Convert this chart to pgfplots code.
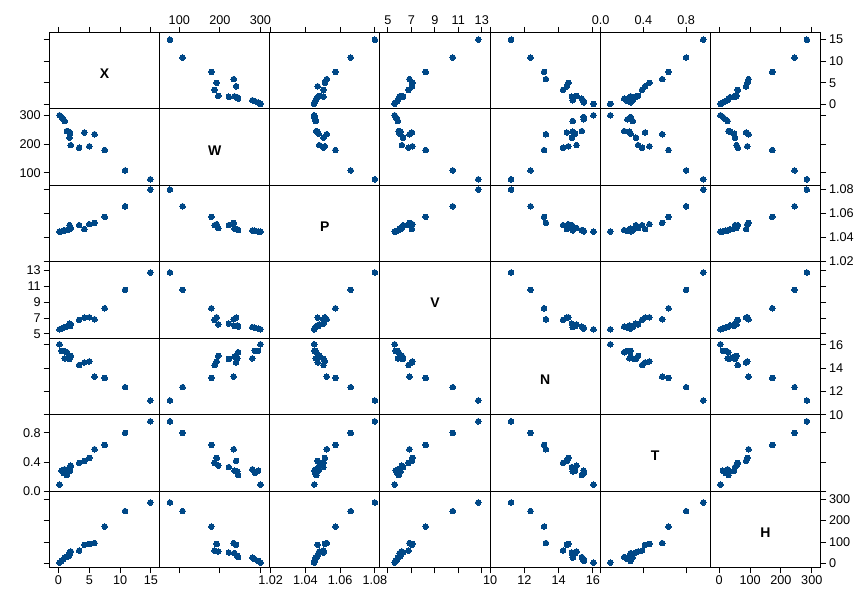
\documentclass[border=0pt]{standalone}
\usepackage{pgfplots}
\pgfplotsset{compat=1.18}
\usepackage{pgfplotstable}
\usepackage{fontspec}
\setmainfont{Liberation Sans}
\definecolor{ptblue}{RGB}{0,72,135}

\pgfplotstableread{
c1 c2 c3 c4 c5 c6 c7
0.17 300 1.0451 5.58 16.04 0.09 4
0.5 294 1.0452 5.67 15.47 0.28 12
0.8 286 1.0457 5.79 15.47 0.25 20
1.0 280 1.0460 5.85 14.83 0.30 27
1.36 245 1.0463 5.92 15.36 0.22 30
1.7 243 1.0470 6.08 14.83 0.27 35
1.8 222 1.0504 6.30 14.78 0.33 51
1.9 236 1.0476 6.00 14.97 0.28 48
2.0 196 1.0480 6.20 15.05 0.35 56
3.36 187 1.0504 6.76 14.26 0.387 60
4.2 240 1.0471 7.05 14.48 0.415 87
5.0 192 1.0512 7.09 14.57 0.456 91
5.85 234 1.0523 6.84 13.26 0.576 95
7.5 179 1.0573 8.22 13.15 0.635 172
10.8 108 1.0661 10.53 12.36 0.80 244
14.9 77 1.0800 12.7 11.22 0.96 284
}\datatable

\expandafter\def\csname vn1\endcsname{X}
\expandafter\def\csname vn2\endcsname{W}
\expandafter\def\csname vn3\endcsname{P}
\expandafter\def\csname vn4\endcsname{V}
\expandafter\def\csname vn5\endcsname{N}
\expandafter\def\csname vn6\endcsname{T}
\expandafter\def\csname vn7\endcsname{H}

\pgfplotsset{
  col1/.style={xmin=-1.46,xmax=16.4,xtick={0,5,10,15}},
  col2/.style={xmin=51.4,xmax=322.8,xtick={100,200,300}},
  col3/.style={xmin=1.0195,xmax=1.0829,xtick={1.02,1.04,1.06,1.08}},
  col4/.style={xmin=4.32,xmax=13.70,xtick={5,7,9,11,13}},
  col5/.style={xmin=9.99,xmax=16.43,xtick={10,12,14,16}},
  col6/.style={xmin=-0.005,xmax=1.026,xtick={0,0.4,0.8}},
  col7/.style={xmin=-29,xmax=328,xtick={0,100,200,300}},
  row1/.style={ymin=-1.0,ymax=16.55,ytick={0,5,10,15}},
  row2/.style={ymin=55.7,ymax=322,ytick={100,200,300}},
  row3/.style={ymin=1.0198,ymax=1.0835,ytick={1.02,1.04,1.06,1.08}},
  row4/.style={ymin=4.45,ymax=14.03,ytick={5,7,9,11,13}},
  row5/.style={ymin=9.99,ymax=16.55,ytick={10,12,14,16}},
  row6/.style={ymin=-0.003,ymax=1.05,ytick={0,0.4,0.8}},
  row7/.style={ymin=-19.8,ymax=336.5,ytick={0,100,200,300}},
  xlab1/.style={xticklabels={0,5,10,15}},
  xlab2/.style={xticklabels={100,200,300}},
  xlab3/.style={xticklabels={1.02,1.04,1.06,1.08}},
  xlab4/.style={xticklabels={5,7,9,11,13}},
  xlab5/.style={xticklabels={10,12,14,16}},
  xlab6/.style={xticklabels={0.0,0.4,0.8}},
  xlab7/.style={xticklabels={0,100,200,300}},
  ylab1/.style={yticklabels={0,5,10,15}},
  ylab2/.style={yticklabels={100,200,300}},
  ylab3/.style={yticklabels={1.02,1.04,1.06,1.08}},
  ylab4/.style={yticklabels={5,7,9,11,13}},
  ylab5/.style={yticklabels={10,12,14,16}},
  ylab6/.style={yticklabels={0.0,0.4,0.8}},
  ylab7/.style={yticklabels={0,100,200,300}},
  panel/.style={
    scale only axis, width=82.605pt, height=57.345pt,
    anchor=south west, clip=false,
    axis line style={black, line width=0.75pt},
    tick align=outside, major tick length=4.3pt,
    every tick/.append style={black, line width=0.7pt},
    tick label style={font=\fontsize{9.5}{11}\selectfont, black},
    xticklabel style={inner sep=1.5pt},
    yticklabel style={inner sep=2pt},
    minor tick num=0,
    scaled ticks=false,
    xticklabels={}, yticklabels={},
  },
  xtop/.style={xtick pos=right,xticklabel pos=right},
  xbot/.style={xtick pos=left,xticklabel pos=left},
  xnone/.style={xmajorticks=false},
  yleft/.style={ytick pos=left,yticklabel pos=left},
  yright/.style={ytick pos=right,yticklabel pos=right},
  ynone/.style={ymajorticks=false},
}

% #1 row, #2 col, #3 x-style, #4 y-style
\newcommand\panel[4]{%
  \pgfmathsetlengthmacro\mypx{(49.45+(#2-1)*110.14)*0.75pt}%
  \pgfmathsetlengthmacro\mypy{(574.5-#1*76.46)*0.75pt}%
  \begin{axis}[panel, at={(\mypx,\mypy)}, col#2, row#1, #3, #4]
   \ifnum#1=#2
     \node at (rel axis cs:0.5,0.46) {\fontsize{10.5}{12}\selectfont\bfseries\csname vn#1\endcsname};
   \else
     \addplot[only marks, mark=*, mark size=2.1pt, mark options={fill=ptblue, draw=ptblue, line width=0pt}] table[x=c#2, y=c#1]{\datatable};
   \fi
  \end{axis}%
}

\begin{document}
\begin{tikzpicture}
\path[use as bounding box] (0pt,0pt) rectangle (645pt,455.25pt);
\panel{1}{1}{xtop}{yleft}
\panel{1}{2}{xtop,xlab2}{ynone}
\panel{1}{3}{xtop}{ynone}
\panel{1}{4}{xtop,xlab4}{ynone}
\panel{1}{5}{xtop}{ynone}
\panel{1}{6}{xtop,xlab6}{ynone}
\panel{1}{7}{xtop}{yright,ylab1}
\panel{2}{1}{xnone}{yleft,ylab2}
\panel{2}{2}{xnone}{ynone}
\panel{2}{3}{xnone}{ynone}
\panel{2}{4}{xnone}{ynone}
\panel{2}{5}{xnone}{ynone}
\panel{2}{6}{xnone}{ynone}
\panel{2}{7}{xnone}{yright}
\panel{3}{1}{xnone}{yleft}
\panel{3}{2}{xnone}{ynone}
\panel{3}{3}{xnone}{ynone}
\panel{3}{4}{xnone}{ynone}
\panel{3}{5}{xnone}{ynone}
\panel{3}{6}{xnone}{ynone}
\panel{3}{7}{xnone}{yright,ylab3}
\panel{4}{1}{xnone}{yleft,ylab4}
\panel{4}{2}{xnone}{ynone}
\panel{4}{3}{xnone}{ynone}
\panel{4}{4}{xnone}{ynone}
\panel{4}{5}{xnone}{ynone}
\panel{4}{6}{xnone}{ynone}
\panel{4}{7}{xnone}{yright}
\panel{5}{1}{xnone}{yleft}
\panel{5}{2}{xnone}{ynone}
\panel{5}{3}{xnone}{ynone}
\panel{5}{4}{xnone}{ynone}
\panel{5}{5}{xnone}{ynone}
\panel{5}{6}{xnone}{ynone}
\panel{5}{7}{xnone}{yright,ylab5}
\panel{6}{1}{xnone}{yleft,ylab6}
\panel{6}{2}{xnone}{ynone}
\panel{6}{3}{xnone}{ynone}
\panel{6}{4}{xnone}{ynone}
\panel{6}{5}{xnone}{ynone}
\panel{6}{6}{xnone}{ynone}
\panel{6}{7}{xnone}{yright}
\panel{7}{1}{xbot,xlab1}{yleft}
\panel{7}{2}{xbot}{ynone}
\panel{7}{3}{xbot,xlab3}{ynone}
\panel{7}{4}{xbot}{ynone}
\panel{7}{5}{xbot,xlab5}{ynone}
\panel{7}{6}{xbot}{ynone}
\panel{7}{7}{xbot,xlab7}{yright,ylab7}
\end{tikzpicture}
\end{document}
